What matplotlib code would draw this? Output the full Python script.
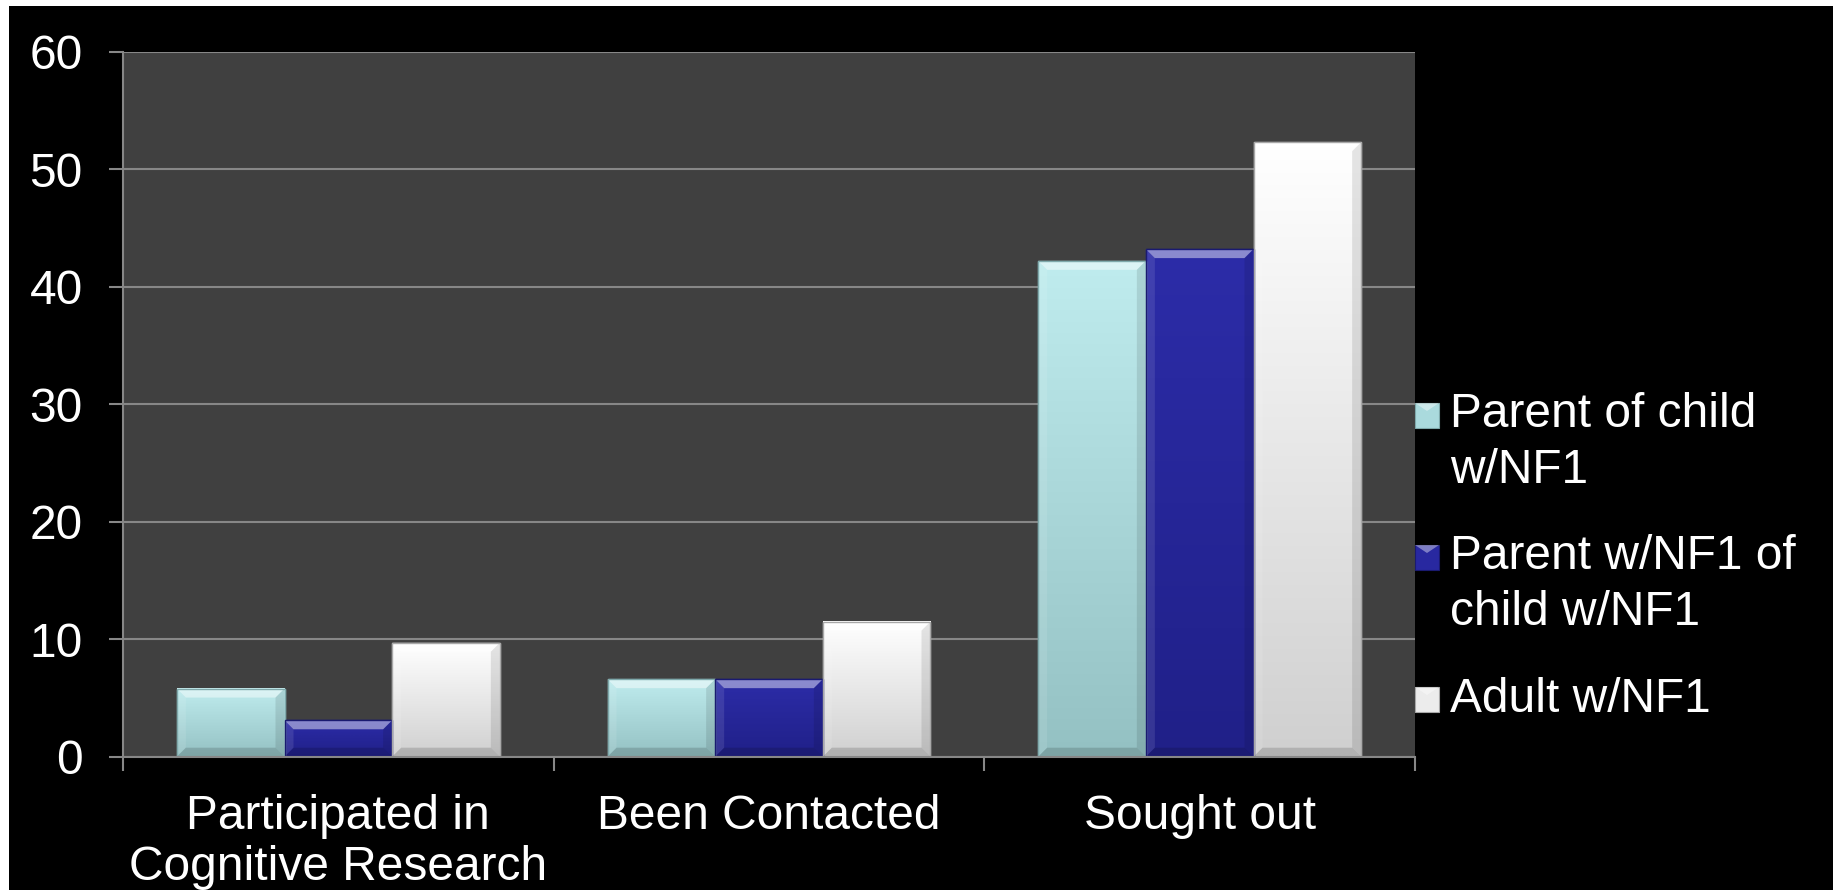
import matplotlib
matplotlib.use('Agg')
import matplotlib.pyplot as plt
import numpy as np
from matplotlib.patches import Rectangle, Polygon
from matplotlib.colors import to_rgb

# ---- data ----
categories = ["Participated in\nCognitive Research", "Been Contacted", "Sought out"]
series_names = ["Parent of child\nw/NF1", "Parent w/NF1 of\nchild w/NF1", "Adult w/NF1"]
parent_of_child = [5.8, 6.6, 42.2]
parent_with_nf1 = [3.1, 6.6, 43.2]
adult_with_nf1 = [9.7, 11.5, 52.3]
y_ticks = [0, 10, 20, 30, 40, 50, 60]

series_values = [parent_of_child, parent_with_nf1, adult_with_nf1]
top_colors = ['#bfecee', '#2c2ca8', '#ffffff']
bottom_colors = ['#94c1c3', '#202088', '#d0d0d0']
base_colors = ['#aadadd', '#2828a0', '#ececec']
edge_colors = ['#7fa9ab', '#1a1a70', '#a8a8a8']

FONT = 'Liberation Sans'
FS = 34.5
W, H, DPI = 1837, 890, 100
fig = plt.figure(figsize=(W / DPI, H / DPI), dpi=DPI, facecolor='white')
fig.patches.append(Rectangle((9 / W, 0), (1833 - 9) / W, (890 - 6) / H,
                             transform=fig.transFigure, facecolor='black',
                             edgecolor='none', zorder=-10))

ax_l, ax_r, ax_t, ax_b = 123, 1415, 51.7, 756.7
ax = fig.add_axes([ax_l / W, (H - ax_b) / H, (ax_r - ax_l) / W, (ax_b - ax_t) / H])
ax.set_facecolor('#404040')
grey = '#878787'

x = np.arange(len(categories))
bw = 0.25
offsets = [-bw, 0, bw]

ax.set_xlim(-0.5, len(categories) - 0.5)
ax.set_ylim(0, 60)

bars_all = []
for i, vals in enumerate(series_values):
    bars = ax.bar(x + offsets[i], vals, width=bw, color=base_colors[i],
                  edgecolor=edge_colors[i], linewidth=1.0, zorder=2)
    bars_all.append(bars)
    for b in bars:
        x0, y0 = b.get_x(), b.get_y()
        w, h = b.get_width(), b.get_height()
        t = np.array(to_rgb(top_colors[i]))
        bt = np.array(to_rgb(bottom_colors[i]))
        f = np.linspace(0, 1, 64)[:, None]
        grad = (t * (1 - f) + bt * f)[:, None, :]
        ax.imshow(grad, extent=(x0, x0 + w, y0, y0 + h), aspect='auto',
                  interpolation='bilinear', zorder=2.5)

ax.set_xlim(-0.5, len(categories) - 0.5)
ax.set_ylim(0, 60)

# bevels (computed in display space, converted back to data)
inv = ax.transData.inverted()
bev = 9
for i, bars in enumerate(bars_all):
    for b in bars:
        x0, y0 = b.get_x(), b.get_y()
        w, h = b.get_width(), b.get_height()
        (px0, py0) = ax.transData.transform((x0, y0))
        (px1, py1) = ax.transData.transform((x0 + w, y0 + h))
        bb = min(bev, (py1 - py0) / 2.0)
        ipx0, ipx1 = px0 + bb, px1 - bb
        ipy0, ipy1 = py0 + bb, py1 - bb
        polys = {
            'top': [(px0, py1), (px1, py1), (ipx1, ipy1), (ipx0, ipy1)],
            'left': [(px0, py0), (px0, py1), (ipx0, ipy1), (ipx0, ipy0)],
            'right': [(px1, py0), (px1, py1), (ipx1, ipy1), (ipx1, ipy0)],
            'bottom': [(px0, py0), (px1, py0), (ipx1, ipy0), (ipx0, ipy0)],
        }
        cols = {'top': ('white', 0.45), 'left': ('white', 0.10),
                'right': ('black', 0.10), 'bottom': ('black', 0.15)}
        for k, pts in polys.items():
            dpts = inv.transform(pts)
            c, a = cols[k]
            ax.add_patch(Polygon(dpts, closed=True, facecolor=c, alpha=a,
                                 edgecolor='none', zorder=3))
        ax.add_patch(Rectangle((x0, y0), w, h, facecolor='none',
                               edgecolor=edge_colors[i], linewidth=1.0, zorder=3.5))

# axes styling
for s in ['top', 'right']:
    ax.spines[s].set_visible(False)
for s in ['left', 'bottom']:
    ax.spines[s].set_color(grey)
    ax.spines[s].set_linewidth(1.5)
    ax.spines[s].set_zorder(4)

ax.set_yticks(y_ticks)
ax.set_yticklabels([str(v) for v in y_ticks], fontsize=FS, color='white', family=FONT)
ax.tick_params(axis='y', length=10, width=1.5, color=grey, pad=19)
ax.yaxis.grid(True, color=grey, linewidth=1.5, zorder=1)
ax.set_axisbelow(True)

ax.set_xticks(x)
ax.set_xticklabels(categories, fontsize=FS, color='white', family=FONT, linespacing=1.18)
ax.tick_params(axis='x', which='major', length=0, pad=27)
ax.set_xticks(np.arange(-0.5, len(categories), 1.0), minor=True)
ax.tick_params(axis='x', which='minor', length=10, width=1.5, color=grey)

# legend (manual, to the right)
leg_text_x = 1450
first_baselines = [428, 570, 712]
line_step = 55
for i, name in enumerate(series_names):
    yb = first_baselines[i]
    n_lines = name.count('\n') + 1
    last_baseline = yb + (n_lines - 1) * line_step
    mx0, mx1, my1 = 1415, 1439, yb - 25
    fig.patches.append(Rectangle((mx0 / W, (H - yb) / H), (mx1 - mx0) / W, 25 / H,
                                 transform=fig.transFigure, facecolor=base_colors[i],
                                 edgecolor=edge_colors[i], linewidth=0.8, zorder=5))
    fig.patches.append(Polygon([(mx0 / W, (H - my1) / H), (mx1 / W, (H - my1) / H),
                                ((mx0 + 12) / W, (H - my1 - 8) / H)],
                               closed=True, transform=fig.transFigure,
                               facecolor='white', alpha=0.4, edgecolor='none', zorder=6))
    fig.text(leg_text_x / W, (H - last_baseline) / H, name, fontsize=FS, color='white',
             family=FONT, va='baseline', ha='left', linespacing=1.32)

fig.savefig('out.png', dpi=DPI, facecolor=fig.get_facecolor())
